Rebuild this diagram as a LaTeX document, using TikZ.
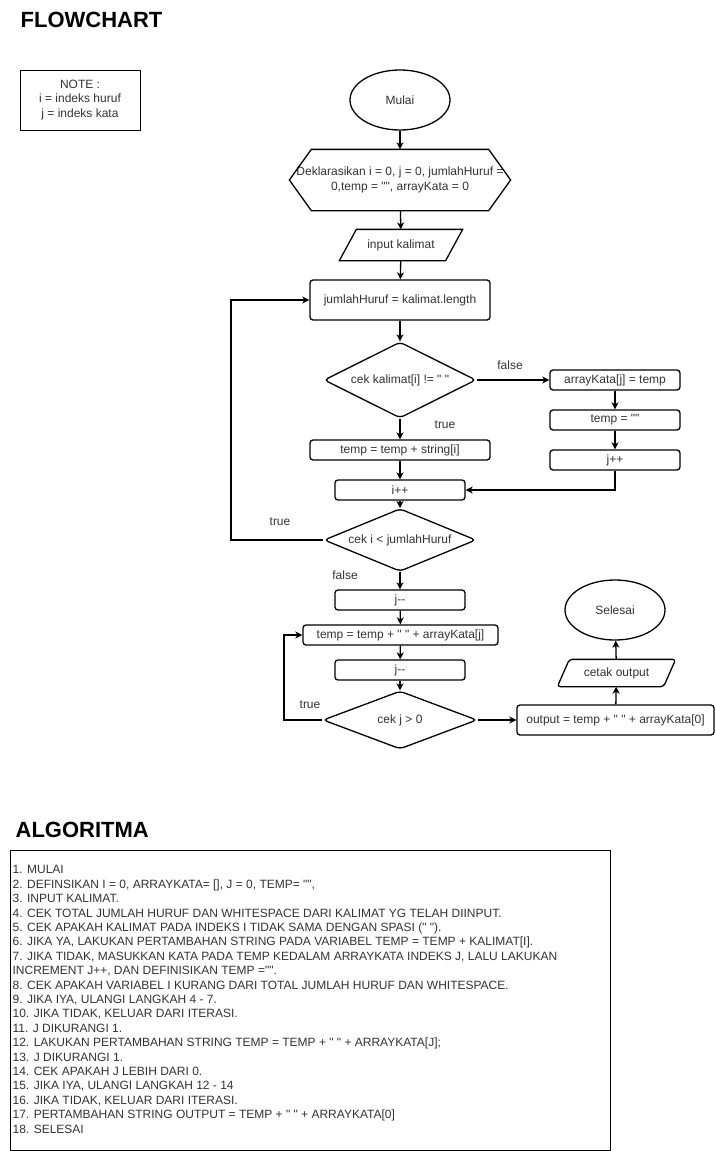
\documentclass[tikz,border=0pt]{standalone}
\usepackage{fontspec}
\setmainfont{Liberation Sans}[Ligatures=TeXOff]
\usetikzlibrary{shapes.geometric,arrows.meta}
\begin{document}
\begin{tikzpicture}[x=1pt,y=-1pt,line width=1.3pt,
  font=\fontsize{12}{14.4}\selectfont,
  txt/.style={text=black!80,inner sep=0pt},
  box/.style={txt,draw,rounded corners=3pt,minimum width=130,minimum height=20},
  term/.style={txt,draw,ellipse,minimum width=100,minimum height=60},
  dec/.style={txt,draw,diamond,aspect=2,rounded corners=4pt,minimum width=152,minimum height=58},
  title/.style={anchor=west,inner sep=0pt,font=\fontsize{22}{26}\bfseries\selectfont},
  arr/.style={-{Stealth[length=7pt,width=7pt,inset=2pt]}}]
\useasboundingbox (0,0) rectangle (715,1151);
\node[title] (judul) at (20,20) {FLOWCHART};
\node[txt,draw,line width=1pt,minimum width=120,minimum height=60,align=center] (note) at (80,100) {NOTE :\\i = indeks huruf\\j = indeks kata};
% alur utama
\node[term] (mulai) at (400,100) {Mulai};
\node[txt,minimum width=220,minimum height=60,align=center] (decl) at (400,180) {Deklarasikan i = 0, j = 0, jumlahHuruf =\\0,temp = "", arrayKata = 0};
\draw ([xshift=22]decl.north west) -- ([xshift=-22]decl.north east) -- (decl.east) -- ([xshift=-22]decl.south east) -- ([xshift=22]decl.south west) -- (decl.west) -- cycle;
\node[txt,minimum width=122,minimum height=30] (input) at (401,245) {input kalimat};
\draw ([xshift=17]input.north west) -- (input.north east) -- ([xshift=-17]input.south east) -- (input.south west) -- cycle;
\node[box,minimum width=180,minimum height=40] (len) at (400,300) {jumlahHuruf = kalimat.length};
\node[dec,minimum height=76] (cek1) at (400,380) {cek kalimat[i] != " "};
\node[box] (akata) at (615,380) {arrayKata[j] = temp};
\node[box] (tkos) at (615,420) {temp = ""};
\node[box] (jinc) at (615,460) {j++};
\node[box,minimum width=180] (tadd) at (400,450) {temp = temp + string[i]};
\node[box] (iinc) at (400,490) {i++};
\node[dec] (cek2) at (400,540) {cek i < jumlahHuruf};
\node[box] (jdec1) at (400,600) {j--};
\node[box,minimum width=195] (tgab) at (400.5,635) {temp = temp + " " + arrayKata[j]};
\node[box] (jdec2) at (400,670) {j--};
\node[dec,minimum width=154] (cek3) at (400,720) {cek j > 0};
\node[box,minimum width=197,minimum height=30] (outp) at (615.5,720) {output = temp + " " + arrayKata[0]};
\node[txt,minimum width=117,minimum height=26] (cetak) at (616.5,673) {cetak output};
\draw[rounded corners=3pt] ([xshift=12]cetak.north west) -- (cetak.north east) -- ([xshift=-12]cetak.south east) -- (cetak.south west) -- cycle;
\node[term] (selesai) at (615,610) {Selesai};
\coordinate (loop1) at (231,540);
\coordinate (loop2) at (284,720);
\node[txt] (lfalse1) at (510,365) {false};
\node[txt] (ltrue1) at (445,425) {true};
\node[txt] (ltrue2) at (280,522) {true};
\node[txt] (lfalse2) at (345,575) {false};
\node[txt] (ltrue3) at (310,705) {true};
\draw[arr] (mulai) -- (decl);
\draw[arr] (decl) -- (input);
\draw[arr] (input) -- (len);
\draw[arr] (len) -- (cek1);
\draw[arr] (cek1) -- (akata);
\draw[arr] (akata) -- (tkos);
\draw[arr] (tkos) -- (jinc);
\draw[arr] (jinc.south) |- (iinc.east);
\draw[arr] (cek1) -- (tadd);
\draw[arr] (tadd) -- (iinc);
\draw[arr] (iinc) -- (cek2);
\draw[arr] (cek2.west) -- (loop1) |- (len.west);
\draw[arr] (cek2) -- (jdec1);
\draw[arr] (jdec1) -- (tgab);
\draw[arr] (tgab) -- (jdec2);
\draw[arr] (jdec2) -- (cek3);
\draw[arr] (cek3.west) -- (loop2) |- (tgab.west);
\draw[arr] (cek3) -- (outp);
\draw[arr] (outp) -- (cetak);
\draw[arr] (cetak) -- (selesai);
% algoritma
\node[title] (judul2) at (15,830) {ALGORITMA};
\draw[line width=1pt] (10,850) rectangle (610,1150);
\node[txt,anchor=north west,align=left] (algo) at (12,865) {1. MULAI\\
2. DEFINSIKAN I = 0, ARRAYKATA= [], J = 0, TEMP= "",\\
3. INPUT KALIMAT.\\
4. CEK TOTAL JUMLAH HURUF DAN WHITESPACE DARI KALIMAT YG TELAH DIINPUT.\\
5. CEK APAKAH KALIMAT PADA INDEKS I TIDAK SAMA DENGAN SPASI (" ").\\
6. JIKA YA, LAKUKAN PERTAMBAHAN STRING PADA VARIABEL TEMP = TEMP + KALIMAT[I].\\
7. JIKA TIDAK, MASUKKAN KATA PADA TEMP KEDALAM ARRAYKATA INDEKS J, LALU LAKUKAN\\
INCREMENT J++, DAN DEFINISIKAN TEMP ="".\\
8. CEK APAKAH VARIABEL I KURANG DARI TOTAL JUMLAH HURUF DAN WHITESPACE.\\
9. JIKA IYA, ULANGI LANGKAH 4 - 7.\\
10. JIKA TIDAK, KELUAR DARI ITERASI.\\
11. J DIKURANGI 1.\\
12. LAKUKAN PERTAMBAHAN STRING TEMP = TEMP + " " + ARRAYKATA[J];\\
13. J DIKURANGI 1.\\
14. CEK APAKAH J LEBIH DARI 0.\\
15. JIKA IYA, ULANGI LANGKAH 12 - 14\\
16. JIKA TIDAK, KELUAR DARI ITERASI.\\
17. PERTAMBAHAN STRING OUTPUT = TEMP + " " + ARRAYKATA[0]\\
18. SELESAI};
\end{tikzpicture}
\end{document}
